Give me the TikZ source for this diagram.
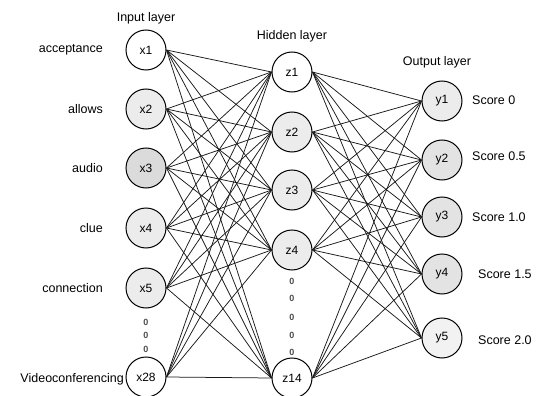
\documentclass[tikz,border=0pt]{standalone}
\usepackage{fontspec}
\setmainfont{Liberation Sans}
\usetikzlibrary{calc}

\begin{document}
\begin{tikzpicture}[x=1pt,y=-1pt]
\tikzset{neuron/.style={circle,draw,line width=1pt,minimum size=40pt,inner sep=0pt,font=\fontsize{12}{13}\selectfont},
  lbl/.style={inner sep=0pt,font=\fontsize{12.5}{14}\selectfont},
  dotmark/.style={inner sep=0pt,font=\fontsize{9}{9}\selectfont\bfseries,black!70},
  link/.style={line width=0.75pt,black!90}}
\useasboundingbox (0,0) rectangle (536,396);
% input layer
\node[neuron,fill=white] (x1) at (146,50) {x1};
\node[neuron,fill=gray!15] (x2) at (146,109) {x2};
\node[neuron,fill=gray!28] (x3) at (146,168) {x3};
\node[neuron,fill=gray!15] (x4) at (146,228) {x4};
\node[neuron,fill=gray!15] (x5) at (146,288) {x5};
\node[neuron,fill=white] (x28) at (146,377) {x28};
\node[lbl] (inlayer) at (146,18) {Input layer};
\node[lbl,anchor=east] (acceptance) at (103,50) {acceptance};
\node[lbl,anchor=east] (allows) at (103,109) {allows};
\node[lbl,anchor=east] (audio) at (103,168) {audio};
\node[lbl,anchor=east] (clue) at (103,228) {clue};
\node[lbl,anchor=east] (connection) at (103,288) {connection};
\node[lbl,anchor=east] (videoconf) at (124,379) {Videoconferencing};
\node[dotmark] (xd1) at (146,322) {0};
\node[dotmark] (xd2) at (146,335) {0};
\node[dotmark] (xd3) at (146,349) {0};
% hidden layer
\node[neuron,fill=white] (z1) at (292,72) {z1};
\node[neuron,fill=gray!15] (z2) at (292,132) {z2};
\node[neuron,fill=gray!15] (z3) at (292,190) {z3};
\node[neuron,fill=gray!15] (z4) at (292,250) {z4};
\node[neuron,fill=white] (z14) at (292,378) {z14};
\node[lbl] (hidlayer) at (292,36) {Hidden layer};
\node[dotmark] (zd1) at (292,281) {0};
\node[dotmark] (zd2) at (292,298) {0};
\node[dotmark] (zd3) at (292,317) {0};
\node[dotmark] (zd4) at (292,335) {0};
\node[dotmark] (zd5) at (292,352) {0};
% output layer
\node[neuron,fill=gray!15] (y1) at (442,101) {y1};
\node[neuron,fill=gray!22] (y2) at (442,160) {y2};
\node[neuron,fill=gray!22] (y3) at (442,217) {y3};
\node[neuron,fill=gray!22] (y4) at (442,274) {y4};
\node[neuron,fill=gray!10] (y5) at (442,338) {y5};
\node[lbl] (outlayer) at (437,62) {Output layer};
\node[lbl,anchor=west] (s1) at (472,100) {Score 0};
\node[lbl,anchor=west] (s2) at (472,156) {Score 0.5};
\node[lbl,anchor=west] (s3) at (472,217) {Score 1.0};
\node[lbl,anchor=west] (s4) at (478,274) {Score 1.5};
\node[lbl,anchor=west] (s5) at (478,340) {Score 2.0};
% connections
\foreach \i in {1,2,3,4,5,28}
  \foreach \j in {1,2,3,4,14}
    \draw[link] (x\i.east) -- (z\j.west);
\foreach \j in {1,2,3,4,14}
  \foreach \k in {1,...,5}
    \draw[link] (z\j.east) -- (y\k.west);
\end{tikzpicture}
\end{document}
